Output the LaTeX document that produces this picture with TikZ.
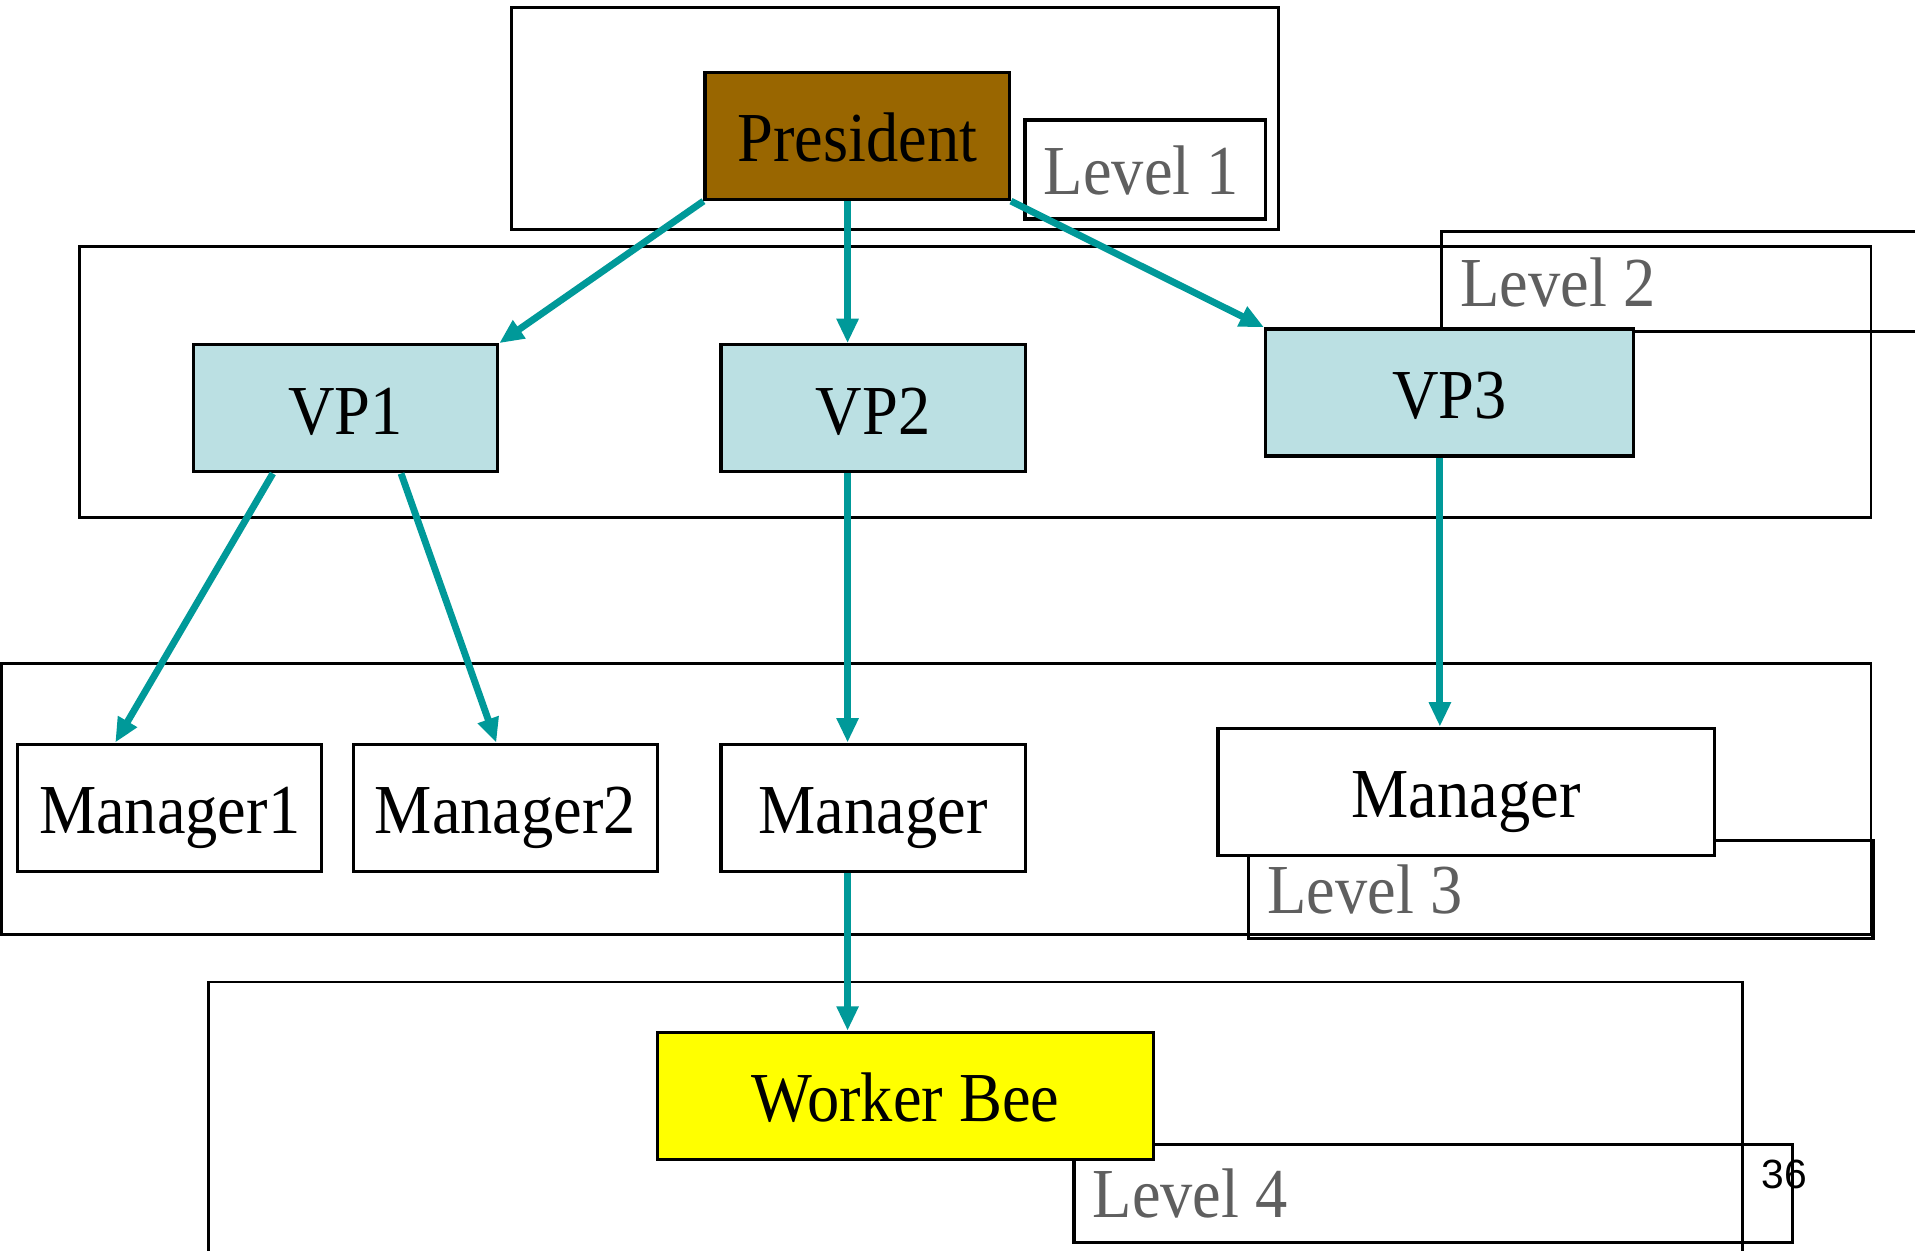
\documentclass[tikz,border=0pt]{standalone}
\usepackage{fontspec}
\usepackage{graphicx}
\setmainfont{Liberation Serif}
\newfontfamily\numfont{Liberation Sans}
\usetikzlibrary{arrows.meta,calc}
\definecolor{presbrown}{HTML}{996600}
\definecolor{vpblue}{HTML}{BBE0E3}
\definecolor{beeyellow}{HTML}{FFFF00}
\definecolor{linkteal}{HTML}{009999}
\definecolor{lvlgray}{HTML}{5F5F5F}
\newcommand{\tallt}[1]{\scalebox{1}[1.09]{#1}}
\begin{document}
\begin{tikzpicture}[x=0.01cm,y=-0.01cm,
  frame/.style={draw=black, line width=0.65pt},
  unitbox/.style={draw=black, line width=0.75pt, anchor=north west, inner sep=0pt,
    font=\fontsize{15}{18}\selectfont, text=black, text height=0.42cm, text depth=0pt},
  lvlbox/.style={draw=black, line width=0.75pt, anchor=north west, inner sep=0pt},
  lvltext/.style={anchor=west, inner sep=0pt, text=lvlgray, font=\fontsize{15}{18}\selectfont},
  link/.style={draw=linkteal, line width=1.6pt, -{Triangle[length=0.2cm,width=0.17cm]}}]
\clip (0,0) rectangle (1568,1024);
\fill[white] (0,0) rectangle (1568,1024);
% level frames
\draw[frame] (419,6) rectangle (1047,188);
\draw[frame] (65,202) rectangle (1532,424);
\draw[frame] (1,543) rectangle (1532,765);
\draw[frame] (171,804) rectangle (1427,1060);
% level label boxes
\node[lvlbox, minimum width=1.97cm, minimum height=0.81cm] (l1) at (838,97) {};
\node[lvltext] (l1t) at ($(l1.west)+(16,1)$) {\tallt{Level 1}};
\node[lvlbox, minimum width=4.5cm, minimum height=0.82cm] (l2) at (1179,188) {};
\node[lvltext] (l2t) at ($(l2.west)+(16,1)$) {\tallt{Level 2}};
\node[lvlbox, minimum width=5.11cm, minimum height=0.80cm] (l3) at (1021,687) {};
\node[lvltext] (l3t) at ($(l3.west)+(16,0)$) {\tallt{Level 3}};
\node[lvlbox, minimum width=5.88cm, minimum height=0.80cm] (l4) at (878,936) {};
\node[lvltext] (l4t) at ($(l4.west)+(16,0)$) {\tallt{Level 4}};
% units
\node[unitbox, fill=presbrown, minimum width=2.49cm, minimum height=1.04cm] (pres) at (576,58) {\tallt{President}};
\node[unitbox, fill=vpblue, minimum width=2.49cm, minimum height=1.04cm] (vp1) at (157,281) {\tallt{VP1}};
\node[unitbox, fill=vpblue, minimum width=2.49cm, minimum height=1.04cm] (vp2) at (589,281) {\tallt{VP2}};
\node[unitbox, fill=vpblue, minimum width=3.01cm, minimum height=1.04cm] (vp3) at (1035,268) {\tallt{VP3}};
\node[unitbox, fill=white, minimum width=2.49cm, minimum height=1.04cm] (m1) at (13,608) {\tallt{Manager1}};
\node[unitbox, fill=white, minimum width=2.49cm, minimum height=1.04cm] (m2) at (288,608) {\tallt{Manager2}};
\node[unitbox, fill=white, minimum width=2.49cm, minimum height=1.04cm] (m3) at (589,608) {\tallt{Manager}};
\node[unitbox, fill=white, minimum width=4.06cm, minimum height=1.04cm] (m4) at (996,595) {\tallt{Manager}};
\node[unitbox, fill=beeyellow, minimum width=4.06cm, minimum height=1.04cm] (bee) at (537,844) {\tallt{Worker Bee}};
\node[anchor=center, inner sep=0pt, font=\numfont\fontsize{9.5}{11}\selectfont] (pg) at (1461,962) {36};
% connectors
\coordinate (colA) at (694,0);
\coordinate (colB) at (1179,0);
\draw[link] (pres.south west) -- (vp1.north east);
\draw[link] (pres.south -| colA) -- (vp2.north -| colA);
\draw[link] (pres.south east) -- (vp3.north west);
\draw[link] ($(vp1.south)+(-59.5,0)$) -- ($(m1.north)+(-44.5,0)$);
\draw[link] ($(vp1.south)+(45.5,0)$) -- ($(m2.north)+(-7.5,0)$);
\draw[link] (vp2.south -| colA) -- (m3.north -| colA);
\draw[link] (vp3.south -| colB) -- (m4.north -| colB);
\draw[link] (m3.south -| colA) -- (bee.north -| colA);
\end{tikzpicture}
\end{document}
